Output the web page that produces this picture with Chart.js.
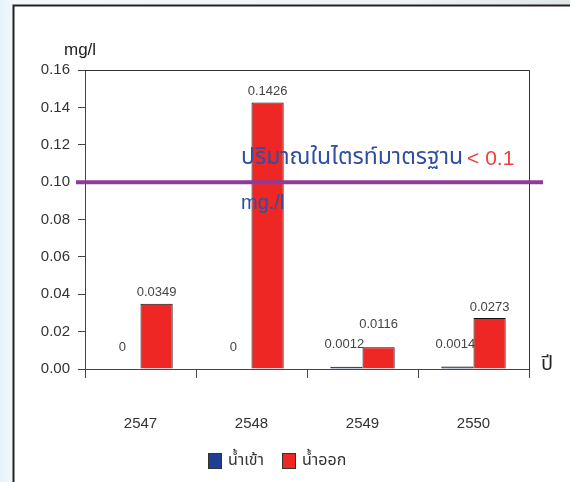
<!DOCTYPE html>
<html>
<head>
<meta charset="utf-8">
<script src="https://cdn.jsdelivr.net/npm/chart.js@4.4.1/dist/chart.umd.min.js"></script>
<style>
  html, body { margin: 0; padding: 0; background: #ffffff; }
  #wrap { width: 570px; height: 482px; position: relative; }
</style>
</head>
<body>
<div id="wrap"><canvas id="c" width="570" height="482"></canvas></div>
<script>
// Years (Buddhist era) and nitrite concentrations, mg/l
const years = ['2547', '2548', '2549', '2550'];
const inflow = [0, 0, 0.0012, 0.0014];     // น้ำเข้า
const outflow = [0.0349, 0.1426, 0.0116, 0.0273]; // น้ำออก
const yTicks = [0, 0.02, 0.04, 0.06, 0.08, 0.10, 0.12, 0.14, 0.16];
const standardLimit = 0.1;
const seriesNames = ['น้ำเข้า', 'น้ำออก'];

const THAI = "'Noto Sans Thai', 'Noto Sans Thai UI', Loma, Garuda, 'Tlwg Typo', 'Liberation Sans', sans-serif";
const NARROW = "'Liberation Sans Narrow', 'Liberation Sans', Arial, sans-serif";
const BLUE = '#1f3f94';
const RED = '#ee2724';

function fmt(v) { return v === 0 ? '0' : v.toFixed(4); }

const decor = {
  id: 'decor',
  beforeDraw(chart) {
    const ctx = chart.ctx;
    ctx.save();
    ctx.fillStyle = '#ffffff';
    ctx.fillRect(0, 0, chart.width, chart.height);
    // light page margins
    const g = ctx.createLinearGradient(0, 0, 13, 0);
    g.addColorStop(0, '#e6f2fa');
    g.addColorStop(1, '#f2f8fc');
    ctx.fillStyle = g;
    ctx.fillRect(0, 0, 13, chart.height);
    const g2 = ctx.createLinearGradient(0, 0, chart.width, 0);
    g2.addColorStop(0, '#f2f8fc');
    g2.addColorStop(0.7, '#eef3f5');
    g2.addColorStop(1, '#dfe6ea');
    ctx.fillStyle = g2;
    ctx.fillRect(13, 0, chart.width - 13, 5);
    // frame
    ctx.strokeStyle = '#222';
    ctx.lineWidth = 2;
    ctx.beginPath();
    ctx.moveTo(13.5, chart.height);
    ctx.lineTo(13.5, 5.5);
    ctx.lineTo(chart.width, 5.5);
    ctx.stroke();
    ctx.restore();
  },
  afterDatasetsDraw(chart) {
    const ctx = chart.ctx;
    const a = chart.chartArea;
    const ys = chart.scales.y;
    ctx.save();
    // plot box top and right edges
    ctx.strokeStyle = '#333';
    ctx.lineWidth = 1;
    ctx.beginPath();
    ctx.moveTo(a.left, Math.round(a.top) + 0.5);
    ctx.lineTo(Math.round(a.right) + 0.5, Math.round(a.top) + 0.5);
    ctx.lineTo(Math.round(a.right) + 0.5, a.bottom);
    ctx.stroke();

    // value labels
    const m0 = chart.getDatasetMeta(0);
    const m1 = chart.getDatasetMeta(1);
    ctx.fillStyle = '#444';
    ctx.font = "13px " + NARROW;
    ctx.textAlign = 'center';
    ctx.textBaseline = 'middle';
    years.forEach((_, i) => {
      const b0 = m0.data[i], b1 = m1.data[i];
      const y0 = b0.y - 22;
      ctx.fillText(fmt(inflow[i]), b0.x - 2, y0);
      let y1 = b1.y - 11;
      if (inflow[i] !== 0) y1 = Math.min(y1, y0 - 20);
      ctx.fillText(fmt(outflow[i]), b1.x, y1);
    });

    // standard limit line
    const ly = ys.getPixelForValue(standardLimit);
    ctx.strokeStyle = '#8e3b97';
    ctx.lineWidth = 4;
    ctx.beginPath();
    ctx.moveTo(76, ly);
    ctx.lineTo(543, ly);
    ctx.stroke();

    // limit caption
    ctx.textAlign = 'left';
    ctx.textBaseline = 'middle';
    ctx.font = "23px " + THAI;
    ctx.fillStyle = '#2e4fa3';
    const cap = 'ปริมาณในไตรท์มาตรฐาน';
    ctx.fillText(cap, 241, ly - 23);
    const w = ctx.measureText(cap).width;
    ctx.fillStyle = '#f0403a';
    ctx.font = "21px 'Liberation Sans', Arial, sans-serif";
    ctx.fillText('< ' + standardLimit.toFixed(1), 241 + w + 4, ly - 23);
    ctx.fillStyle = '#2e4fa3';
    ctx.font = "20px 'Liberation Sans', Arial, sans-serif";
    ctx.fillText('mg./l', 241, ly + 21);

    // unit and axis titles
    ctx.fillStyle = '#222';
    ctx.font = "17px " + NARROW;
    ctx.fillText('mg/l', 64, 50);
    ctx.font = "20px " + THAI;
    ctx.fillText('ปี', 541, 366);

    // legend
    const items = [[BLUE, 208, seriesNames[0]], [RED, 282, seriesNames[1]]];
    ctx.font = "16px " + THAI;
    items.forEach(([col, x, txt]) => {
      ctx.fillStyle = col;
      ctx.fillRect(x, 453, 13, 15);
      ctx.strokeStyle = '#333';
      ctx.lineWidth = 1;
      ctx.strokeRect(x + 0.5, 453.5, 13, 15);
      ctx.fillStyle = '#333';
      ctx.fillText(txt, x + 20, 462);
    });
    ctx.restore();
  }
};

new Chart(document.getElementById('c'), {
  type: 'bar',
  data: {
    labels: years,
    datasets: [
      { label: seriesNames[0], data: inflow, backgroundColor: BLUE, borderColor: '#111', borderWidth: 1 },
      { label: seriesNames[1], data: outflow, backgroundColor: RED, borderColor: '#111', borderWidth: 1 }
    ]
  },
  options: {
    responsive: false,
    animation: false,
    devicePixelRatio: 1,
    layout: { padding: { left: 0, right: 41, top: 70, bottom: 0 } },
    datasets: { bar: { categoryPercentage: 0.58, barPercentage: 1.0 } },
    plugins: { legend: { display: false }, tooltip: { enabled: false } },
    scales: {
      x: {
        grid: { offset: true, drawOnChartArea: false, drawTicks: true, tickLength: 9, color: '#444' },
        border: { display: true, color: '#444', width: 1 },
        ticks: { color: '#333', padding: 37, font: { size: 15, family: NARROW } },
        afterFit(s) { s.height = 113; }
      },
      y: {
        min: 0, max: 0.16,
        afterBuildTicks(s) { s.ticks = yTicks.map(v => ({ value: v })); },
        grid: { drawOnChartArea: false, drawTicks: true, tickLength: 7, color: '#444' },
        border: { display: true, color: '#444', width: 1 },
        ticks: { color: '#333', padding: 8, font: { size: 15, family: NARROW }, callback: v => Number(v).toFixed(2) },
        afterFit(s) { s.width = 85; }
      }
    }
  },
  plugins: [decor]
});
</script>
</body>
</html>
